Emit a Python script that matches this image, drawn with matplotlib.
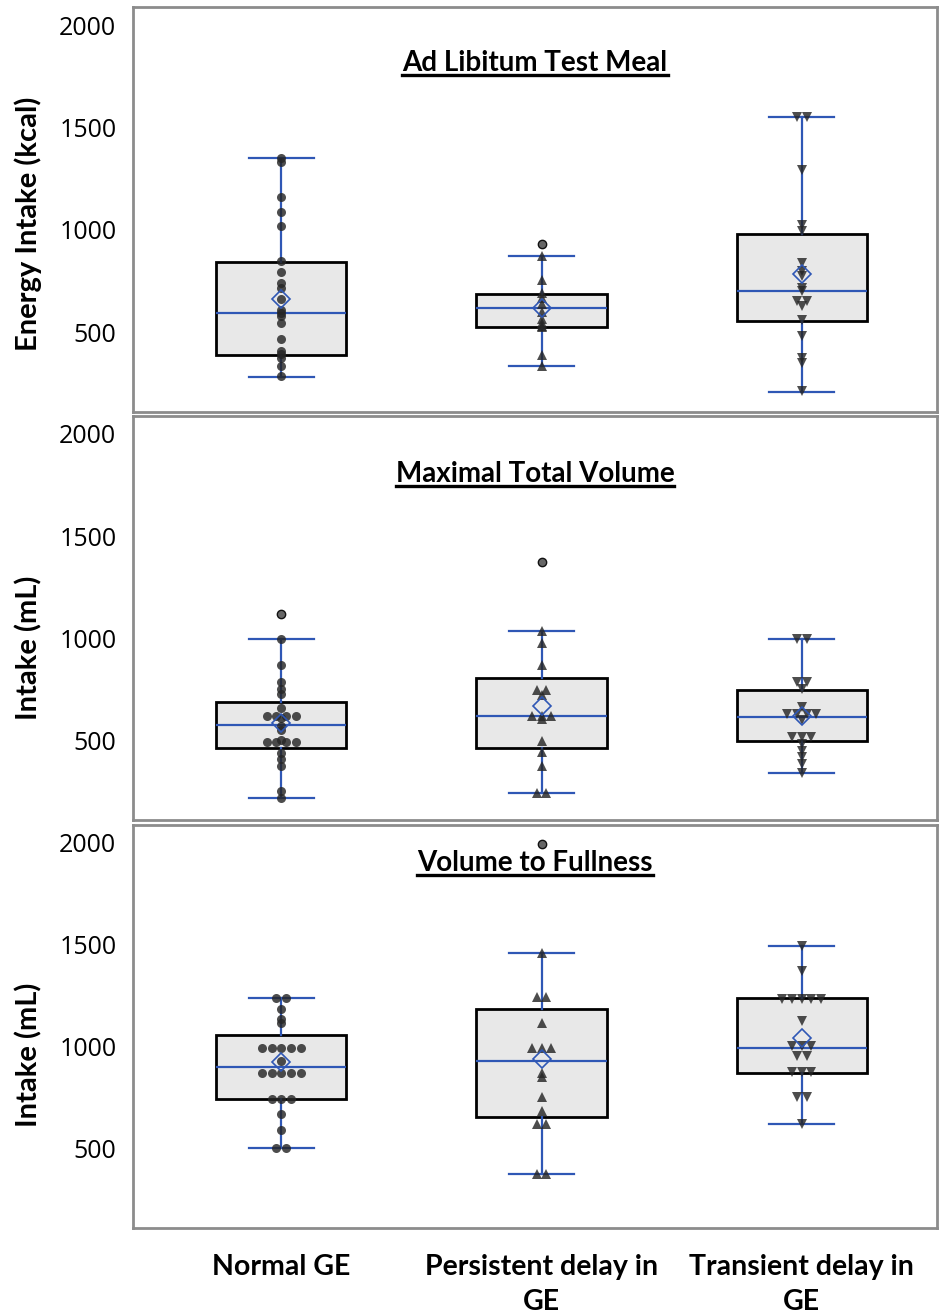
import numpy as np
import matplotlib.pyplot as plt
from matplotlib.lines import Line2D

#########Data############
groups = ["Normal GE", "Persistent delay in\nGE", "Transient delay in\nGE"]
markers = ["o", "^", "v"]

# Ad Libitum Test Meal (kcal)
kcal_normal = [1351, 1333, 1159, 1089, 1021, 847, 796, 742, 719, 661, 609, 596,
               580, 544, 466, 409, 393, 377, 336, 287]
kcal_persist = [872, 758, 693, 668, 640, 600, 565, 545, 530, 527, 388, 336]
kcal_trans = [1551, 1551, 1294, 1026, 993, 839, 799, 774, 718, 701, 652, 652,
              628, 563, 482, 377, 353, 214]
kcal_out = [[], [932], []]
kcal_lo = [284, 336, 209]
kcal_q1 = [388, 527, 558]
kcal_med = [595, 618, 701]
kcal_q3 = [843, 689, 982]
kcal_hi = [1351, 872, 1551]
kcal_mean = [662, 618, 786]

# Maximal Total Volume (mL)
mtv_normal = [997, 872, 787, 755, 730, 659, 623, 623, 623, 623, 610, 574, 550,
              505, 495, 495, 495, 495, 438, 410, 377, 254, 219]
mtv_persist = [1038, 976, 869, 746, 746, 722, 620, 620, 620, 605, 500, 443, 377,
               246, 246]
mtv_trans = [997, 997, 787, 787, 755, 664, 632, 632, 632, 632, 600, 517, 517, 517,
             484, 451, 418, 386, 344]
mtv_out = [[1120], [1372], []]
mtv_lo = [219, 246, 344]
mtv_q1 = [462, 464, 496]
mtv_med = [579, 620, 618]
mtv_q3 = [689, 807, 746]
mtv_hi = [997, 1038, 997]
mtv_mean = [585, 669, 622]

# Volume to Fullness (mL)
vtf_normal = [1242, 1242, 1185, 1136, 1119, 997, 997, 997, 997, 997, 932,
              872, 872, 872, 872, 872, 744, 744, 744, 671, 592, 502, 502]
vtf_persist = [1462, 1245, 1245, 1117, 997, 997, 997, 870, 850, 752, 687, 622,
               622, 377, 377]
vtf_trans = [1495, 1373, 1234, 1234, 1234, 1234, 1234, 1128, 1005, 1005, 1005,
             956, 956, 875, 875, 875, 752, 752, 622]
vtf_out = [[], [1994], []]
vtf_lo = [502, 377, 622]
vtf_q1 = [744, 654, 870]
vtf_med = [899, 932, 997]
vtf_q3 = [1058, 1185, 1242]
vtf_hi = [1242, 1462, 1495]
vtf_mean = [927, 940, 1046]
###############################

W, H = 939, 1316
BLUE = "#2f57b5"
GRAY = "#8c8c8c"
PT = "#262626"

panels = [
    ("Ad Libitum Test Meal", "Energy Intake (kcal)", (7, 412), 0.862, 0.464,
     [kcal_normal, kcal_persist, kcal_trans], kcal_out,
     kcal_lo, kcal_q1, kcal_med, kcal_q3, kcal_hi, kcal_mean),
    ("Maximal Total Volume", "Intake (mL)", (416, 820), 0.856, 0.426,
     [mtv_normal, mtv_persist, mtv_trans], mtv_out,
     mtv_lo, mtv_q1, mtv_med, mtv_q3, mtv_hi, mtv_mean),
    ("Volume to Fullness", "Intake (mL)", (825, 1228), 0.906, 0.43,
     [vtf_normal, vtf_persist, vtf_trans], vtf_out,
     vtf_lo, vtf_q1, vtf_med, vtf_q3, vtf_hi, vtf_mean),
]


def tie_offsets(vals, step=0.037):
    # spread identical values side by side
    vals = np.asarray(vals, float)
    off = np.zeros(len(vals))
    for v in np.unique(vals):
        idx = np.where(vals == v)[0]
        k = len(idx)
        off[idx] = (np.arange(k) - (k - 1) / 2) * step
    return off


fig = plt.figure(figsize=(W / 100, H / 100), dpi=100)
titles = []
for n, (title, ylab, (top, bot), ty, ly, data, outl, lo, q1, med, q3, hi, mean) in enumerate(panels):
    ax = fig.add_axes([133 / W, 1 - bot / H, (937 - 133) / W, (bot - top) / H])
    stats = []
    for i in range(3):
        stats.append(dict(med=med[i], q1=q1[i], q3=q3[i], whislo=lo[i],
                          whishi=hi[i], fliers=[], mean=mean[i]))
    ax.bxp(stats, positions=[0, 1, 2], widths=0.5, capwidths=0.25,
           showfliers=False, showmeans=False, patch_artist=True,
           boxprops=dict(facecolor="#e8e8e8", edgecolor="black", linewidth=2),
           medianprops=dict(color=BLUE, linewidth=1.6),
           whiskerprops=dict(color=BLUE, linewidth=1.6),
           capprops=dict(color=BLUE, linewidth=1.6), zorder=1)
    for i in range(3):
        y = np.array(data[i], float)
        x = i + tie_offsets(y)
        ax.plot(x, y, linestyle="none", marker=markers[i], markersize=6.5,
                color=PT, alpha=0.82, markeredgewidth=0, zorder=3)
        if outl[i]:
            ax.plot([i] * len(outl[i]), outl[i], linestyle="none", marker="o",
                    markersize=6, markerfacecolor="#666666",
                    markeredgecolor="#111111", markeredgewidth=1, zorder=3)
        ax.plot([i], [mean[i]], linestyle="none", marker="D", markersize=9.5,
                markerfacecolor="none", markeredgecolor=BLUE,
                markeredgewidth=1.2, zorder=4)

    ax.set_xlim(-0.57, 2.52)
    ax.set_ylim(112, 2088)
    ax.set_yticks([500, 1000, 1500, 2000])
    ax.tick_params(axis="y", length=0, pad=12, labelsize=18)
    for lab in ax.get_yticklabels():
        lab.set_family("Open Sans")
    for s in ax.spines.values():
        s.set_color(GRAY)
        s.set_linewidth(2)
    ax.set_ylabel(ylab, fontsize=21, fontweight="bold", family="Lato")
    ax.yaxis.set_label_coords(-0.113, ly)
    if n < 2:
        ax.set_xticks([])
    else:
        ax.set_xticks([0, 1, 2])
        ax.set_xticklabels(groups, fontsize=20.5, fontweight="bold", family="Lato",
                           linespacing=1.4)
        ax.tick_params(axis="x", length=0, pad=19)
    t = ax.text(0.5, ty, title, transform=ax.transAxes, ha="center", va="center",
                fontsize=20, fontweight="bold", family="Lato")
    titles.append(t)

# underline the panel titles
fig.canvas.draw()
r = fig.canvas.get_renderer()
for t in titles:
    bb = t.get_window_extent(r)
    yl = bb.y0 + 1
    fig.add_artist(Line2D([bb.x0 / W, bb.x1 / W], [yl / H, yl / H],
                          color="black", linewidth=2.4))

fig.savefig("out.png", dpi=100)
